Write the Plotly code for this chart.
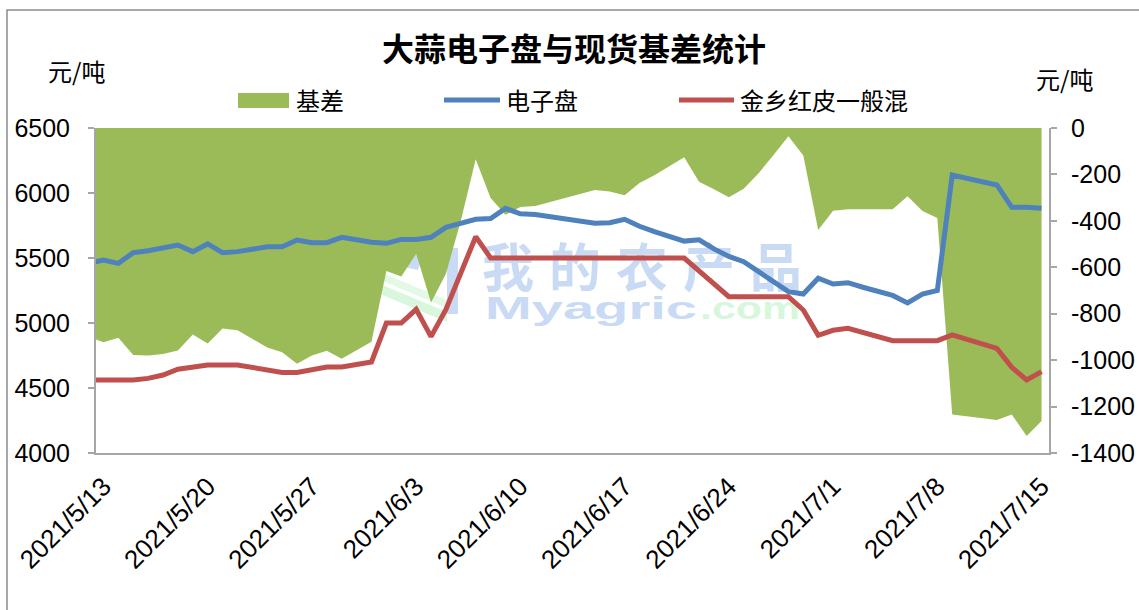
import base64
import plotly.graph_objects as go

# ---------------- data ----------------
FUT_DATES = ["2021-05-12", "2021-05-13", "2021-05-14", "2021-05-15", "2021-05-16", "2021-05-17",
             "2021-05-18", "2021-05-19", "2021-05-20", "2021-05-21", "2021-05-22", "2021-05-23",
             "2021-05-24", "2021-05-25", "2021-05-26", "2021-05-27", "2021-05-28", "2021-05-29",
             "2021-05-30", "2021-05-31", "2021-06-01", "2021-06-02", "2021-06-03", "2021-06-04",
             "2021-06-05", "2021-06-06", "2021-06-07", "2021-06-08", "2021-06-09", "2021-06-10",
             "2021-06-11", "2021-06-15", "2021-06-16", "2021-06-17", "2021-06-18", "2021-06-19",
             "2021-06-21", "2021-06-22", "2021-06-23", "2021-06-24", "2021-06-25", "2021-06-26",
             "2021-06-27", "2021-06-28", "2021-06-29", "2021-06-30", "2021-07-01", "2021-07-02",
             "2021-07-03", "2021-07-04", "2021-07-05", "2021-07-06", "2021-07-07", "2021-07-08",
             "2021-07-09", "2021-07-12", "2021-07-13", "2021-07-14", "2021-07-15"]
FUTURES = [5460, 5485, 5459, 5541, 5556, 5575,
           5600, 5549, 5608, 5541, 5549, 5567,
           5587, 5587, 5638, 5618, 5618, 5659,
           5638, 5621, 5613, 5643, 5643, 5659,
           5736, 5767, 5798, 5803, 5882, 5840,
           5835, 5767, 5772, 5798, 5744, 5703,
           5630, 5640, 5570, 5512, 5472, 5395,
           5318, 5241, 5223, 5344, 5300, 5310,
           5275, 5241, 5212, 5154, 5223, 5250,
           6138, 6062, 5890, 5890, 5882]

SPOT_DATES = ["2021-05-12", "2021-05-13", "2021-05-14", "2021-05-15", "2021-05-16", "2021-05-17",
              "2021-05-18", "2021-05-19", "2021-05-20", "2021-05-22", "2021-05-23", "2021-05-24",
              "2021-05-25", "2021-05-26", "2021-05-27", "2021-05-28", "2021-05-29", "2021-05-30",
              "2021-05-31", "2021-06-01", "2021-06-02", "2021-06-03", "2021-06-04", "2021-06-05",
              "2021-06-07", "2021-06-08", "2021-06-21", "2021-06-24", "2021-06-28", "2021-06-29",
              "2021-06-30", "2021-07-01", "2021-07-02", "2021-07-05", "2021-07-08", "2021-07-09",
              "2021-07-12", "2021-07-13", "2021-07-14", "2021-07-15"]
SPOT = [4562, 4562, 4562, 4562, 4574, 4600,
        4644, 4664, 4677, 4677, 4659, 4638,
        4620, 4620, 4638, 4662, 4662, 4677,
        4700, 5000, 5000, 5105, 4895, 5105,
        5664, 5500, 5500, 5202, 5202, 5100,
        4905, 4944, 4959, 4864, 4864, 4908,
        4805, 4659, 4562, 4626]

BASIS_DATES = ["2021-05-12", "2021-05-13", "2021-05-14", "2021-05-15", "2021-05-16", "2021-05-17",
               "2021-05-18", "2021-05-19", "2021-05-20", "2021-05-21", "2021-05-22", "2021-05-23",
               "2021-05-24", "2021-05-25", "2021-05-26", "2021-05-27", "2021-05-28", "2021-05-29",
               "2021-05-30", "2021-05-31", "2021-06-01", "2021-06-02", "2021-06-03", "2021-06-04",
               "2021-06-05", "2021-06-06", "2021-06-07", "2021-06-08", "2021-06-09", "2021-06-10",
               "2021-06-11", "2021-06-15", "2021-06-16", "2021-06-17", "2021-06-18", "2021-06-19",
               "2021-06-21", "2021-06-22", "2021-06-23", "2021-06-24", "2021-06-25", "2021-06-26",
               "2021-06-27", "2021-06-28", "2021-06-29", "2021-06-30", "2021-07-01", "2021-07-02",
               "2021-07-05", "2021-07-06", "2021-07-07", "2021-07-08", "2021-07-09", "2021-07-12",
               "2021-07-13", "2021-07-14", "2021-07-15"]
BASIS = [-900, -923, -903, -978, -980, -974,
         -958, -890, -928, -864, -871, -907,
         -946, -966, -1016, -980, -960, -994,
         -958, -921, -616, -640, -542, -752,
         -628, -400, -135, -302, -374, -340,
         -336, -267, -274, -290, -237, -204,
         -126, -231, -264, -298, -262, -195,
         -116, -36, -118, -439, -356, -350,
         -350, -294, -357, -388, -1234, -1258,
         -1234, -1327, -1262]

X_TICK_VALS = ["2021-05-13", "2021-05-20", "2021-05-27", "2021-06-03", "2021-06-10",
               "2021-06-17", "2021-06-24", "2021-07-01", "2021-07-08", "2021-07-15"]
X_TICK_TEXT = ["2021/5/13", "2021/5/20", "2021/5/27", "2021/6/3", "2021/6/10",
               "2021/6/17", "2021/6/24", "2021/7/1", "2021/7/8", "2021/7/15"]
LEFT_TICKS = [4000, 4500, 5000, 5500, 6000, 6500]
RIGHT_TICKS = [0, -200, -400, -600, -800, -1000, -1200, -1400]
RIGHT_TICK_TEXT = ["0", "-200", "-400", "-600", "-800", "-1000", "-1200", "-1400"]

TITLE = "大蒜电子盘与现货基差统计"
NAME_BASIS = "基差"
NAME_FUT = "电子盘"
NAME_SPOT = "金乡红皮一般混"
UNIT = "元/吨"

# ---------------- style ----------------
W, H = 1139, 610
PL, PR, PT, PB = 96, 1049, 128, 453
GREEN, BLUE, RED = "#9BBB59", "#4F81BD", "#C0504D"
AXIS_COLOR = "#A6A6A6"
CJK = "Noto Sans CJK SC"
NUM = "Liberation Sans"


def px(x):
    return (x - PL) / (PR - PL)


def py(y):
    return (PB - y) / (PB - PT)


fig = go.Figure()

fig.add_trace(go.Scatter(x=BASIS_DATES, y=BASIS, name=NAME_BASIS, mode="lines",
                         line=dict(width=0, color=GREEN), fill="tozeroy",
                         fillcolor=GREEN, xaxis="x", yaxis="y", showlegend=False))
fig.add_trace(go.Scatter(x=FUT_DATES, y=FUTURES, name=NAME_FUT, mode="lines",
                         line=dict(width=5, color=BLUE), xaxis="x", yaxis="y2",
                         showlegend=False))
fig.add_trace(go.Scatter(x=SPOT_DATES, y=SPOT, name=NAME_SPOT, mode="lines",
                         line=dict(width=5, color=RED), xaxis="x", yaxis="y2",
                         showlegend=False))

tickfont = dict(family=NUM, size=25, color="black")
xtickfont = dict(family=NUM, size=26, color="black")

fig.update_layout(
    width=W, height=H, autosize=False,
    margin=dict(l=PL, r=W - PR, t=PT, b=H - PB, pad=0),
    paper_bgcolor="white", plot_bgcolor="white",
    title=dict(text=TITLE, x=574 / W, xref="container", xanchor="center",
               y=1 - 50 / H, yref="container", yanchor="middle",
               font=dict(family=CJK, size=32, color="black", weight="bold")),
    xaxis=dict(type="date", range=["2021-05-12 12:00", "2021-07-15 12:00"],
               tickvals=X_TICK_VALS, ticktext=X_TICK_TEXT, tickangle=-45,
               tickfont=xtickfont, ticks="", showgrid=False, zeroline=False,
               showline=True, linecolor=AXIS_COLOR, linewidth=2, automargin=False,
               ticklabelstandoff=6),
    yaxis=dict(side="right", range=[-1400, 0], tickvals=RIGHT_TICKS, ticktext=RIGHT_TICK_TEXT,
               tickfont=tickfont, ticks="outside", ticklen=6, tickcolor=AXIS_COLOR, tickwidth=2,
               showgrid=False, zeroline=False, showline=True, linecolor=AXIS_COLOR,
               linewidth=2, automargin=False, ticklabelstandoff=9),
    yaxis2=dict(side="left", overlaying="y", range=[4000, 6500], tickvals=LEFT_TICKS,
                tickfont=tickfont, ticks="outside", ticklen=6, tickcolor=AXIS_COLOR, tickwidth=2,
                showgrid=False, zeroline=False, showline=True, linecolor=AXIS_COLOR,
                linewidth=2, automargin=False, ticklabelstandoff=13),
    showlegend=False,
)

# chart border
fig.add_shape(type="rect", xref="paper", yref="paper",
              x0=px(7), x1=px(1160), y0=py(640), y1=py(10),
              line=dict(color="#8C8C8C", width=1.5), fillcolor="rgba(0,0,0,0)", layer="below")

# manual legend
fig.add_shape(type="rect", xref="paper", yref="paper", x0=px(238), x1=px(289),
              y0=py(108), y1=py(93), fillcolor=GREEN, line=dict(width=0))
fig.add_shape(type="line", xref="paper", yref="paper", x0=px(444), x1=px(500),
              y0=py(100), y1=py(100), line=dict(color=BLUE, width=5))
fig.add_shape(type="line", xref="paper", yref="paper", x0=px(679), x1=px(734),
              y0=py(100), y1=py(100), line=dict(color=RED, width=5))
legend_font = dict(family=CJK, size=24, color="black")
for txt, x in [(NAME_BASIS, 294), (NAME_FUT, 504), (NAME_SPOT, 738)]:
    fig.add_annotation(text=txt, xref="paper", yref="paper", x=px(x), y=py(100),
                       xanchor="left", yanchor="middle", showarrow=False, font=legend_font)

# unit labels
fig.add_annotation(text=UNIT, xref="paper", yref="paper", x=px(46), y=py(70),
                   xanchor="left", yanchor="middle", showarrow=False, font=legend_font)
fig.add_annotation(text=UNIT, xref="paper", yref="paper", x=px(1034), y=py(78),
                   xanchor="left", yanchor="middle", showarrow=False, font=legend_font)

# watermark (below traces)
svg = """<svg xmlns="http://www.w3.org/2000/svg" width="425" height="90" viewBox="0 0 425 90">
<polygon points="0,22 45,8 38,30" fill="#c9daf5"/>
<polygon points="0,44 0,54 67,82 67,72" fill="#d8f7dd"/>
<polygon points="0,32 0,40 67,68 67,60" fill="#e3f9e6"/>
<rect x="67" y="8" width="11" height="66" fill="#c9daf5"/>
<text x="102" y="47" font-family="Noto Sans CJK SC" font-weight="bold" font-size="52" fill="#c9daf5"
 textLength="320" lengthAdjust="spacing">我的农产品</text>
<text x="105" y="79" font-family="Liberation Sans" font-weight="bold" font-size="32" fill="#c9daf5"
 textLength="212" lengthAdjust="spacingAndGlyphs">Myagric</text>
<text x="320" y="79" font-family="Liberation Sans" font-weight="bold" font-size="32" fill="#d6f7dc"
 textLength="100" lengthAdjust="spacingAndGlyphs">.com</text>
</svg>"""
src = "data:image/svg+xml;base64," + base64.b64encode(svg.encode("utf-8")).decode("ascii")
fig.add_layout_image(source=src, xref="paper", yref="paper", x=px(380), y=py(240),
                     sizex=425 / (PR - PL), sizey=90 / (PB - PT), xanchor="left", yanchor="top",
                     sizing="stretch", layer="below")

fig.write_html("out.html")
